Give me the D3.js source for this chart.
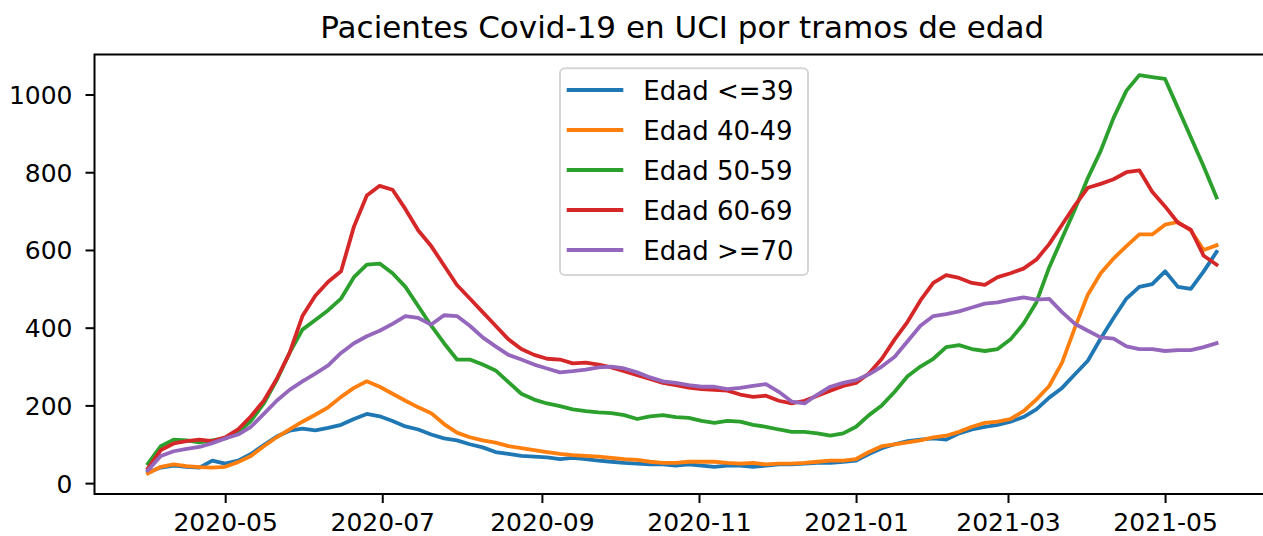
<!DOCTYPE html>
<html>
<head>
<meta charset="utf-8">
<script src="https://cdn.jsdelivr.net/npm/d3@7"></script>
<style>
  html, body { margin: 0; padding: 0; background: #ffffff; }
  svg { display: block; }
  text { font-family: "DejaVu Sans", sans-serif; fill: #000; }
</style>
</head>
<body>
<svg id="chart" width="1263" height="536"></svg>
<script>
// Daily ICU occupancy sampled every 5 days, 2020-04-01 .. 2021-05-21
const startDate = "2020-04-01";
const endDate = "2021-05-21";
const stepDays = 5;

const seriesNames = ["Edad <=39", "Edad 40-49", "Edad 50-59", "Edad 60-69", "Edad >=70"];
const seriesColors = ["#1f77b4", "#ff7f0e", "#2ca02c", "#d62728", "#9467bd"];

const edad39 = [28,40,45,42,40,58,50,58,75,98,120,135,140,136,142,150,165,178,172,160,146,138,125,115,110,100,92,80,75,70,68,66,62,65,62,58,55,52,50,48,48,45,48,45,42,45,45,42,45,48,48,50,52,52,55,58,75,90,100,108,112,115,112,128,138,145,150,158,170,190,220,245,280,315,372,425,475,505,512,545,505,500,545,595];
const edad4049 = [25,42,48,44,41,40,42,54,70,95,118,138,158,176,195,222,245,262,248,230,212,195,180,152,130,118,110,104,95,90,85,80,75,72,70,68,65,62,60,55,52,52,55,55,55,52,50,52,48,50,50,52,55,58,58,62,80,95,100,105,110,118,122,132,145,155,158,165,185,215,250,310,400,485,540,578,610,640,640,665,672,650,600,612];
const edad5059 = [50,95,112,110,105,110,115,130,160,205,265,335,395,420,445,475,530,562,565,540,505,455,405,360,318,318,305,290,260,230,215,205,198,190,185,182,180,175,165,172,175,170,168,160,155,160,158,150,145,138,132,132,128,122,128,145,175,200,235,275,300,320,350,355,345,340,345,370,410,465,555,630,705,785,855,940,1010,1050,1045,1040,965,890,815,735];
const edad6069 = [38,85,102,108,112,108,118,138,172,212,268,335,430,482,518,545,660,740,765,755,705,650,610,560,510,475,440,405,370,345,330,320,318,308,310,305,298,288,278,268,258,252,246,242,240,238,228,222,225,212,205,212,225,238,250,258,282,320,370,415,470,515,535,528,515,510,530,540,552,575,615,665,715,760,770,782,800,805,750,712,670,652,585,562];
const edad70 = [33,70,82,88,93,103,115,125,145,178,212,240,262,282,303,335,360,378,392,410,430,425,408,432,430,405,375,352,330,318,305,295,285,288,292,298,300,295,285,272,262,258,252,248,248,242,245,250,255,235,210,205,228,248,258,265,280,300,325,365,405,430,435,442,452,462,465,472,478,472,474,440,410,392,375,372,352,345,345,340,342,342,350,360];

const yTickValues = [0, 200, 400, 600, 800, 1000];
const xTickDates = ["2020-05-01", "2020-07-01", "2020-09-01", "2020-11-01", "2021-01-01", "2021-03-01", "2021-05-01"];
const titleText = "Pacientes Covid-19 en UCI por tramos de edad";

const parse = d3.utcParse("%Y-%m-%d");
const t0 = parse(startDate), t1 = parse(endDate);
const dates = d3.utcDay.range(t0, d3.utcDay.offset(t1, 1), stepDays);
const values = [edad39, edad4049, edad5059, edad6069, edad70];

// axes box (right edge runs past the canvas)
const plot = { left: 94.5, right: 1270, top: 54.5, bottom: 494 };

// 5% padding on both ends, as in the default autoscale
const span = t1 - t0;
const x = d3.scaleUtc()
  .domain([new Date(+t0 - span * 0.05), new Date(+t1 + span * 0.05)])
  .range([plot.left, plot.right]);
const y = d3.scaleLinear().domain([-28, 1103]).range([plot.bottom, plot.top]);

const svg = d3.select("#chart");
const tickFs = 25;
const legendFs = 26;
const spineW = 2;
const tickLen = 9;

// lines
const line = d3.line().x((d, i) => x(dates[i])).y(d => y(d));
const g = svg.append("g");
values.forEach((vals, k) => {
  g.append("path")
    .datum(vals)
    .attr("fill", "none")
    .attr("stroke", seriesColors[k])
    .attr("stroke-width", 3.8)
    .attr("stroke-linejoin", "round")
    .attr("stroke-linecap", "square")
    .attr("d", line);
});

// frame
svg.append("rect")
  .attr("x", plot.left).attr("y", plot.top)
  .attr("width", plot.right - plot.left).attr("height", plot.bottom - plot.top)
  .attr("fill", "none").attr("stroke", "#000").attr("stroke-width", spineW);

// y axis
const yAxis = d3.axisLeft(y).tickValues(yTickValues).tickSize(tickLen).tickPadding(13).tickFormat(d3.format("d"));
const ya = svg.append("g").attr("transform", `translate(${plot.left},0)`).call(yAxis);
ya.select(".domain").remove();
ya.selectAll(".tick line").attr("stroke", "#000").attr("stroke-width", spineW);
ya.selectAll(".tick text").attr("font-size", tickFs).attr("font-family", "DejaVu Sans").attr("dy", "0.36em");

// x axis
const xAxis = d3.axisBottom(x).tickValues(xTickDates.map(parse)).tickSize(tickLen).tickPadding(9).tickFormat(d3.utcFormat("%Y-%m"));
const xa = svg.append("g").attr("transform", `translate(0,${plot.bottom})`).call(xAxis);
xa.select(".domain").remove();
xa.selectAll(".tick line").attr("stroke", "#000").attr("stroke-width", spineW);
xa.selectAll(".tick text").attr("font-size", tickFs).attr("font-family", "DejaVu Sans").attr("dy", "0.76em");

// title
svg.append("text")
  .attr("x", (plot.left + plot.right) / 2).attr("y", 38)
  .attr("text-anchor", "middle").attr("font-size", 31)
  .text(titleText);

// legend
const lg = svg.append("g").attr("transform", "translate(560,68.3)");
lg.append("rect")
  .attr("width", 248).attr("height", 206.7)
  .attr("rx", 5).attr("ry", 5)
  .attr("fill", "#fff").attr("fill-opacity", 0.8)
  .attr("stroke", "#d6d6d6").attr("stroke-width", 2);
seriesNames.forEach((name, k) => {
  const cy = 21.7 + k * 40;
  lg.append("line")
    .attr("x1", 8.6).attr("x2", 61.4).attr("y1", cy).attr("y2", cy)
    .attr("stroke", seriesColors[k]).attr("stroke-width", 3.8)
    .attr("stroke-linecap", "square");
  lg.append("text")
    .attr("x", 83.3).attr("y", cy + 10)
    .attr("font-size", legendFs)
    .text(name);
});
</script>
</body>
</html>
